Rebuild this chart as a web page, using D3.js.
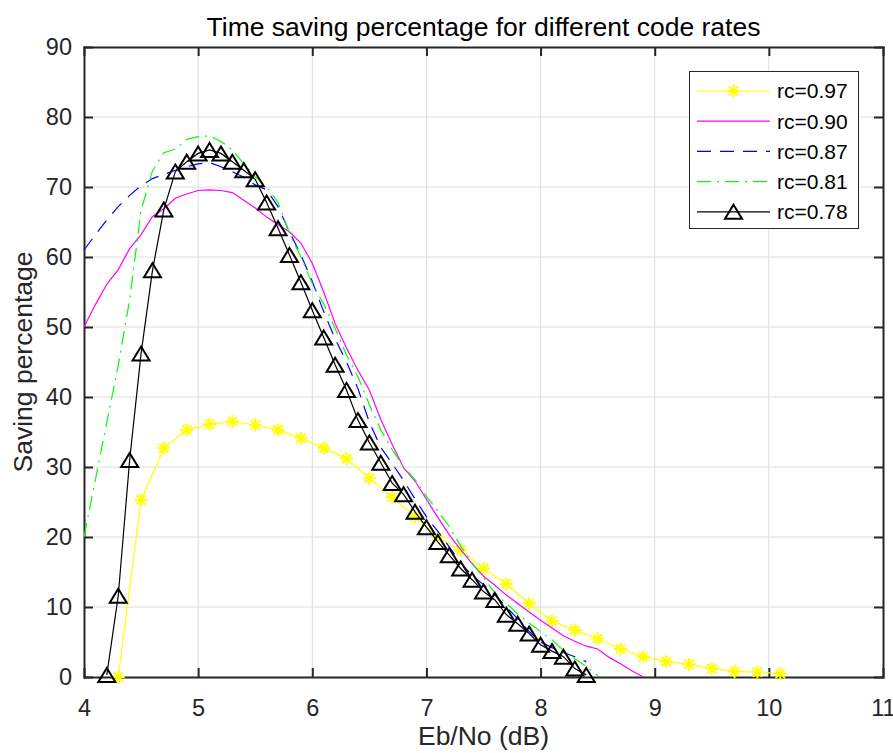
<!DOCTYPE html>
<html>
<head>
<meta charset="utf-8">
<script src="https://cdn.jsdelivr.net/npm/d3@7"></script>
<style>
  body { margin: 0; background: #fff; }
  svg { display: block; font-family: "Liberation Sans", Arial, sans-serif; }
</style>
</head>
<body>
<svg id="chart" width="893" height="753"></svg>
<script>
// values
const ebnoRc97 = [4.3, 4.5, 4.7, 4.9, 5.1, 5.3, 5.5, 5.7, 5.9, 6.1, 6.3, 6.5, 6.7, 6.9, 7.1,
  7.3, 7.5, 7.7, 7.9, 8.1, 8.3, 8.5, 8.7, 8.9, 9.1, 9.3, 9.5, 9.7, 9.9, 10.1];
const saveRc97 = [0, 25.3, 32.7, 35.3, 36.1, 36.5, 36.0, 35.3, 34.1, 32.7, 31.2, 28.4, 25.7, 22.9, 20.0,
  18.1, 15.5, 13.3, 10.5, 8.0, 6.7, 5.5, 4.0, 2.9, 2.2, 1.8, 1.2, 0.8, 0.7, 0.5];

const ebnoRc90 = [4.0, 4.1, 4.2, 4.3, 4.4, 4.5, 4.6, 4.7, 4.8, 4.9, 5.0, 5.1, 5.2, 5.3, 5.4, 5.5, 5.6,
  5.7, 5.8, 5.9, 6.0, 6.1, 6.2, 6.3, 6.4, 6.5, 6.6, 6.7, 6.8, 6.9, 7.0, 7.1, 7.2, 7.3, 7.4, 7.5, 7.6,
  7.7, 7.8, 7.9, 8.0, 8.1, 8.2, 8.3, 8.4, 8.5, 8.6, 8.7, 8.8, 8.9];
const saveRc90 = [50, 53.2, 56.1, 58.2, 61.2, 63.2, 65.8, 66.9, 68.4, 69.0, 69.5, 69.6, 69.5, 69.2, 68.1,
  67.0, 65.7, 64.6, 63.6, 62.0, 59.1, 55.0, 50.5, 47.0, 43.8, 41.0, 36.8, 33.2, 29.9, 28.0, 25.4, 22.8,
  20.3, 18.2, 16.2, 14.4, 13.1, 11.7, 10.5, 9.3, 8.1, 7.0, 5.9, 5.1, 4.4, 4.0, 2.8, 1.9, 0.9, 0];

const ebnoRc87 = [4.0, 4.1, 4.2, 4.3, 4.4, 4.5, 4.6, 4.7, 4.8, 4.9, 5.0, 5.1, 5.2, 5.3, 5.4, 5.5, 5.6,
  5.7, 5.8, 5.9, 6.0, 6.1, 6.2, 6.3, 6.4, 6.5, 6.6, 6.7, 6.8, 6.9, 7.0, 7.1, 7.2, 7.3, 7.4, 7.5, 7.6,
  7.7, 7.8, 7.9, 8.0, 8.1, 8.2, 8.3, 8.4];
const saveRc87 = [61, 63.2, 65.3, 67.2, 68.8, 70.2, 71.2, 71.8, 72.4, 72.9, 73.3, 73.5, 72.9, 72.2, 71.4,
  70.3, 69.6, 67.2, 63.6, 60.3, 56.5, 52.2, 48.3, 45.0, 41.2, 36.4, 32.8, 30.5, 28.1, 25.4, 22.9, 20.8,
  18.6, 16.3, 14.5, 13.2, 11.7, 10.0, 8.3, 6.5, 5.0, 4.2, 3.5, 2.9, 2.2];

const ebnoRc81 = [4.0, 4.1, 4.2, 4.3, 4.4, 4.5, 4.6, 4.7, 4.8, 4.9, 5.0, 5.1, 5.2, 5.3, 5.4, 5.5, 5.6,
  5.7, 5.8, 5.9, 6.0, 6.1, 6.2, 6.3, 6.4, 6.5, 6.6, 6.7, 6.8, 6.9, 7.0, 7.1, 7.2, 7.3, 7.4, 7.5, 7.6,
  7.7, 7.8, 7.9, 8.0, 8.1, 8.2, 8.3, 8.4, 8.5];
const saveRc81 = [20, 28.2, 36.4, 44.5, 53.9, 66.7, 72.3, 74.9, 75.4, 76.8, 77.2, 77.3, 76.5, 75.3, 73.3,
  71.5, 70.0, 67.8, 63.4, 60.0, 56.2, 53.3, 49.8, 46.0, 42.9, 38.9, 35.3, 32.5, 30.0, 28.2, 25.8, 23.7,
  21.5, 18.7, 16.3, 14.2, 12.0, 10.5, 9.0, 7.7, 6.5, 5.3, 3.8, 2.6, 1.5, 0.2];

const ebnoRc78 = [4.2, 4.3, 4.4, 4.5, 4.6, 4.7, 4.8, 4.9, 5.0, 5.1, 5.2, 5.3, 5.4, 5.5, 5.6, 5.7, 5.8,
  5.9, 6.0, 6.1, 6.2, 6.3, 6.4, 6.5, 6.6, 6.7, 6.8, 6.9, 7.0, 7.1, 7.2, 7.3, 7.4, 7.5, 7.6, 7.7, 7.8,
  7.9, 8.0, 8.1, 8.2, 8.3, 8.4];
const saveRc78 = [0.3, 11.6, 31.0, 46.2, 58.1, 66.8, 72.2, 73.6, 74.8, 75.3, 74.8, 73.6, 72.4, 71.1, 67.8,
  64.1, 60.3, 56.4, 52.4, 48.5, 44.6, 41.0, 36.7, 33.5, 30.6, 27.7, 26.1, 23.6, 21.4, 19.3, 17.4, 15.5,
  13.9, 12.2, 11.0, 8.9, 7.6, 6.2, 4.6, 3.7, 2.9, 1.2, 0.3];

const legendLabels = ['rc=0.97', 'rc=0.90', 'rc=0.87', 'rc=0.81', 'rc=0.78'];
const xTicks = [4, 5, 6, 7, 8, 9, 10, 11];
const yTicks = [0, 10, 20, 30, 40, 50, 60, 70, 80, 90];

const axisColor = '#262626';
const fontTick = 23.5;
const fontLabel = 26.5;

const series = [
  { name: legendLabels[0], xs: ebnoRc97, ys: saveRc97, color: '#ffff00', dash: null, marker: 'star', width: 1.2 },
  { name: legendLabels[1], xs: ebnoRc90, ys: saveRc90, color: '#ff00ff', dash: null, marker: null, width: 1.2 },
  { name: legendLabels[2], xs: ebnoRc87, ys: saveRc87, color: '#0000ff', dash: '14,9', marker: null, width: 1.2 },
  { name: legendLabels[3], xs: ebnoRc81, ys: saveRc81, color: '#00ff00', dash: '14,6,2,6', marker: null, width: 1.2 },
  { name: legendLabels[4], xs: ebnoRc78, ys: saveRc78, color: '#000000', dash: null, marker: 'triangle', width: 1.2 }
];

const svg = d3.select('#chart');
const x = d3.scaleLinear().domain([4, 11]).range([84, 883]);
const y = d3.scaleLinear().domain([0, 90]).range([677, 47]);

// grid
const grid = svg.append('g').attr('stroke', '#dcdcdc').attr('stroke-width', 1);
grid.selectAll('line.v').data(xTicks.slice(1, -1)).join('line')
  .attr('x1', d => x(d)).attr('x2', d => x(d))
  .attr('y1', y(0)).attr('y2', y(90));
grid.selectAll('line.h').data(yTicks.slice(1, -1)).join('line')
  .attr('x1', x(4)).attr('x2', x(11))
  .attr('y1', d => y(d)).attr('y2', d => y(d));

// axes (inward ticks, box on)
function styleAxis(g) {
  g.selectAll('path').attr('stroke', axisColor).attr('stroke-width', 2);
  g.selectAll('line').attr('stroke', axisColor).attr('stroke-width', 2);
  g.selectAll('text').attr('fill', axisColor).style('font-size', fontTick + 'px');
}
const fmt = d3.format('d');
svg.append('g').attr('transform', `translate(0,${y(0)})`)
  .call(d3.axisBottom(x).tickValues(xTicks).tickFormat(fmt).tickSizeInner(-9).tickSizeOuter(0).tickPadding(22))
  .call(styleAxis);
svg.append('g').attr('transform', `translate(0,${y(90)})`)
  .call(d3.axisTop(x).tickValues(xTicks).tickSizeInner(-9).tickSizeOuter(0).tickFormat(''))
  .call(styleAxis);
svg.append('g').attr('transform', `translate(${x(4)},0)`)
  .call(d3.axisLeft(y).tickValues(yTicks).tickFormat(fmt).tickSizeInner(-9).tickSizeOuter(0).tickPadding(12))
  .call(styleAxis);
svg.append('g').attr('transform', `translate(${x(11)},0)`)
  .call(d3.axisRight(y).tickValues(yTicks).tickSizeInner(-9).tickSizeOuter(0).tickFormat(''))
  .call(styleAxis);
svg.selectAll('.domain').attr('stroke-linecap', 'square');

// markers
function starPath(r) {
  const a = r * Math.SQRT1_2;
  return `M${-r},0H${r}M0,${-r}V${r}M${-a},${-a}L${a},${a}M${-a},${a}L${a},${-a}`;
}
function trianglePath(w, h) {
  return `M0,${-h / 2}L${w / 2},${h / 2}L${-w / 2},${h / 2}Z`;
}
function drawMarker(g, type, color) {
  if (type === 'star') {
    g.append('path').attr('d', starPath(6.5)).attr('stroke', color)
      .attr('stroke-width', 2).attr('fill', 'none');
  } else if (type === 'triangle') {
    g.append('path').attr('d', trianglePath(17, 14)).attr('stroke', color)
      .attr('stroke-width', 2).attr('fill', 'none').attr('stroke-linejoin', 'miter');
  }
}

const line = d3.line().x(d => x(d[0])).y(d => y(d[1]));
const plot = svg.append('g');
series.forEach(s => {
  const pts = s.xs.map((v, i) => [v, s.ys[i]]);
  plot.append('path').datum(pts)
    .attr('d', line)
    .attr('fill', 'none')
    .attr('stroke', s.color)
    .attr('stroke-width', s.width)
    .attr('stroke-dasharray', s.dash);
  if (s.marker) {
    pts.forEach(p => {
      const m = plot.append('g').attr('transform', `translate(${x(p[0])},${y(p[1])})`);
      drawMarker(m, s.marker, s.color);
    });
  }
});

// title and axis labels
svg.append('text').attr('x', (x(4) + x(11)) / 2).attr('y', 36)
  .attr('text-anchor', 'middle').attr('fill', '#000')
  .style('font-size', fontLabel + 'px')
  .text('Time saving percentage for different code rates');
svg.append('text').attr('x', (x(4) + x(11)) / 2).attr('y', 745)
  .attr('text-anchor', 'middle').attr('fill', axisColor)
  .style('font-size', fontLabel + 'px')
  .text('Eb/No (dB)');
svg.append('text').attr('transform', `translate(32,${(y(0) + y(90)) / 2}) rotate(-90)`)
  .attr('text-anchor', 'middle').attr('fill', axisColor)
  .style('font-size', fontLabel + 'px')
  .text('Saving percentage');

// legend
const legend = svg.append('g');
legend.append('rect').attr('x', 689.5).attr('y', 71.5).attr('width', 169).attr('height', 157)
  .attr('fill', '#fff').attr('stroke', axisColor).attr('stroke-width', 1);
series.forEach((s, i) => {
  const ry = 91 + i * 30.2;
  const row = legend.append('g').attr('transform', `translate(0,${ry})`);
  row.append('line').attr('x1', 697).attr('x2', 770).attr('y1', 0).attr('y2', 0)
    .attr('stroke', s.color).attr('stroke-width', s.width).attr('stroke-dasharray', s.dash);
  if (s.marker) drawMarker(row.append('g').attr('transform', 'translate(733.5,0)'), s.marker, s.color);
  row.append('text').attr('x', 777).attr('y', 0).attr('dy', '0.35em')
    .attr('fill', '#000').style('font-size', '21px').text(s.name);
});
</script>
</body>
</html>
